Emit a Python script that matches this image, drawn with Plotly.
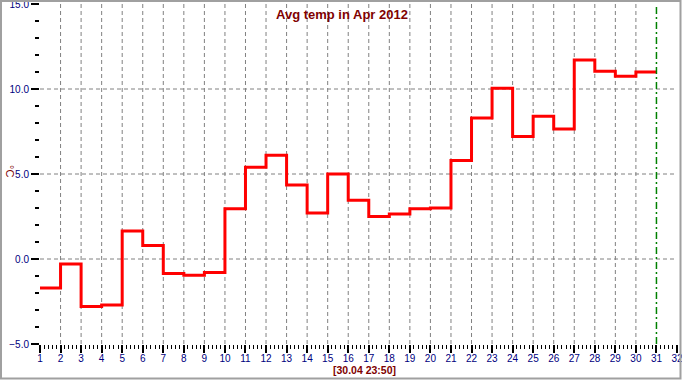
import plotly.graph_objects as go

# ---- data ----
days = list(range(1, 31))
temps = [-1.7, -0.3, -2.8, -2.7, 1.65, 0.8, -0.85, -0.95, -0.8, 2.95,
         5.4, 6.1, 4.35, 2.7, 5.0, 3.45, 2.5, 2.65, 2.95, 3.0,
         5.8, 8.3, 10.05, 7.2, 8.4, 7.65, 11.7, 11.05, 10.75, 11.0]
now_day = 31
x_range = [1, 32]
y_range = [-5, 15]
x_grid = list(range(2, 31))
y_grid = [0, 5, 10]
title_text = "Avg temp in Apr 2012"
stamp_text = "[30.04 23:50]"
unit_text = "°C"

# step line: extend last value to end of its day
xs = days + [days[-1] + 1]
ys = temps + [temps[-1]]

W, H = 682, 380
ML, MR, MT, MB = 40, 5, 4, 36
PW, PH = W - ML - MR, H - MT - MB

def px_x(p):
    return (p - ML) / PW

def px_y(p):
    return (H - MB - p) / PH

tick_font = dict(family="Liberation Sans Narrow, Arial Narrow, Liberation Sans, Arial", size=10, color="#000080")
red_dark = "#800000"
grid_line = dict(color="#808080", width=1, dash="4px,3px")

fig = go.Figure()
fig.add_trace(go.Scatter(x=xs, y=ys, mode="lines", line=dict(color="#ff0000", width=3, shape="hv"),
                         hoverinfo="skip", showlegend=False))

fig.update_layout(
    width=W, height=H,
    margin=dict(l=ML, r=MR, t=MT, b=MB, autoexpand=False),
    paper_bgcolor="white", plot_bgcolor="white",
    showlegend=False,
    xaxis=dict(range=x_range, dtick=1, tick0=1, ticks="outside", ticklen=8, tickwidth=1.5,
               tickcolor="black", tickfont=tick_font, showline=False, zeroline=False,
               showgrid=False, ticklabeloverflow="allow", ticklabelstandoff=-3, automargin=False,
               minor=dict(dtick=0.2, tick0=1, ticks="outside", ticklen=4, tickwidth=1,
                          tickcolor="black", showgrid=False),
               fixedrange=True),
    yaxis=dict(range=y_range, dtick=5, tick0=-5, ticks="outside", ticklen=8, tickwidth=1.5,
               tickcolor="black", tickfont=tick_font, tickformat=".1f", showline=False,
               zeroline=False, showgrid=False, ticklabeloverflow="allow", automargin=False,
               minor=dict(dtick=1, tick0=-5, ticks="outside", ticklen=4, tickwidth=1.5,
                          tickcolor="black", showgrid=False),
               fixedrange=True),
)

# grid lines
for gx in x_grid:
    fig.add_shape(type="line", xref="x", yref="paper", x0=gx, x1=gx, y0=0, y1=1,
                  line=grid_line, layer="below")
for gy in y_grid:
    fig.add_shape(type="line", xref="paper", yref="y", x0=0, x1=1, y0=gy, y1=gy,
                  line=grid_line, layer="below")

# current-time marker
fig.add_shape(type="line", xref="x", yref="paper", x0=now_day, x1=now_day, y0=0, y1=1,
              line=dict(color="#008000", width=1.5, dash="7px,3px,2px,3px"))

# outer frame
fig.add_shape(type="rect", xref="paper", yref="paper",
              x0=px_x(1), x1=px_x(680.5), y0=px_y(378.5), y1=px_y(1),
              line=dict(color="#a0a0a0", width=2), fillcolor="rgba(0,0,0,0)", layer="above")

fig.add_annotation(text="<b>" + title_text + "</b>", xref="paper", yref="paper",
                   x=px_x(342), y=px_y(14), showarrow=False, xanchor="center", yanchor="middle",
                   font=dict(family="Liberation Sans, Arial", size=13, color=red_dark))
fig.add_annotation(text="<b>" + stamp_text + "</b>", xref="paper", yref="paper",
                   x=px_x(364.5), y=px_y(369.5), showarrow=False, xanchor="center", yanchor="middle",
                   font=dict(family="Liberation Sans, Arial", size=10.5, color=red_dark))
fig.add_annotation(text=unit_text, xref="paper", yref="paper", textangle=90,
                   x=px_x(10), y=px_y(171), showarrow=False, xanchor="center", yanchor="middle",
                   font=dict(family="Liberation Sans, Arial", size=11, color=red_dark))

fig.write_html("out.html")
